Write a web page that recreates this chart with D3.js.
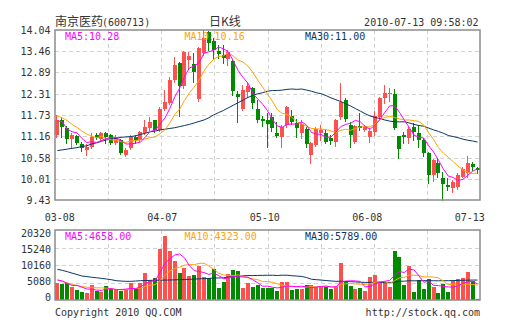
<!DOCTYPE html>
<html>
<head>
<meta charset="utf-8">
<script src="https://cdn.jsdelivr.net/npm/d3@7"></script>
<style>
  html, body { margin: 0; padding: 0; background: #fff; }
  svg { display: block; }
  .mono { font-family: "DejaVu Sans Mono", "Liberation Mono", monospace; font-size: 10px; }
  .cjk { font-family: "Noto Sans CJK SC", sans-serif; font-size: 12px; }
</style>
</head>
<body>
<svg id="chart" width="505" height="330"></svg>
<script>
// 南京医药 (600713) daily candles, 2010-03-08 .. 2010-07-13
const open  = [11.19,11.60,11.39,11.08,11.16,10.95,10.79,10.88,11.19,11.08,11.24,11.19,10.98,11.06,10.65,10.83,11.15,11.06,11.24,11.37,11.60,11.33,11.90,12.07,12.68,13.15,12.52,13.23,13.11,12.17,13.41,13.99,13.74,13.48,13.36,13.25,13.20,12.30,11.90,12.37,12.46,11.90,11.62,11.60,11.67,11.26,11.13,11.46,11.71,11.53,11.24,11.35,10.66,10.92,11.24,11.24,11.10,11.01,11.67,12.14,11.46,11.01,11.44,11.33,11.15,11.28,11.67,12.19,12.30,12.30,11.17,11.18,11.10,11.40,11.24,11.06,10.70,10.11,10.42,10.02,9.84,9.75,9.79,10.06,10.15,10.41,10.29];
const high  = [11.73,11.69,11.44,11.24,11.19,11.01,10.95,11.24,11.24,11.27,11.27,11.22,11.19,11.08,10.83,11.19,11.19,11.31,11.60,11.69,11.60,11.95,12.40,12.77,13.32,13.18,13.48,13.45,13.41,13.58,14.04,14.02,13.81,13.63,13.63,13.50,13.25,12.39,12.55,12.59,12.50,12.14,11.70,11.78,11.78,11.55,11.46,11.98,11.87,11.64,11.60,11.42,11.01,11.42,11.46,11.33,11.20,11.62,12.61,12.19,11.55,11.47,11.78,11.46,11.37,11.83,12.23,12.55,12.46,12.43,11.17,11.28,11.42,11.51,11.46,11.10,10.74,10.53,10.56,10.20,10.02,9.97,10.15,10.33,10.61,10.47,10.33];
const low   = [11.13,11.15,10.98,10.88,10.95,10.77,10.65,10.83,11.08,11.04,10.98,10.95,10.95,10.68,10.62,10.81,10.98,11.04,11.22,11.33,11.28,11.30,11.86,12.03,12.64,11.71,12.46,12.97,12.64,12.12,13.36,13.50,13.27,13.27,13.14,13.10,12.28,11.55,11.88,12.23,11.92,11.55,11.45,10.88,11.30,11.15,10.88,11.40,11.50,11.15,11.10,10.88,10.44,10.90,11.06,10.97,10.95,10.89,11.62,11.58,10.88,10.97,11.33,11.30,10.99,11.19,11.62,12.07,12.12,11.35,10.56,10.97,10.97,11.06,10.86,10.61,9.88,9.95,10.05,9.43,9.70,9.66,9.72,10.05,10.06,10.24,10.15];
const close = [11.60,11.40,11.08,11.19,10.98,10.83,10.88,11.15,11.10,11.24,11.13,10.98,11.13,10.70,10.79,11.15,11.06,11.28,11.40,11.55,11.33,11.89,12.10,12.68,13.09,12.52,13.45,13.33,12.91,13.54,13.81,13.68,13.50,13.39,13.27,13.43,12.39,12.23,12.41,12.52,12.07,11.60,11.56,11.48,11.37,11.17,11.42,11.94,11.55,11.37,11.48,10.94,10.97,11.35,11.33,11.01,11.04,11.60,12.10,11.64,11.19,11.44,11.39,11.42,11.31,11.72,12.19,12.34,12.32,11.39,10.80,11.13,11.36,11.28,11.06,10.70,10.11,10.51,10.15,9.86,9.77,9.93,10.11,10.26,10.44,10.33,10.23];
const volume = [5030,4640,4840,3870,2900,2320,2130,4350,2710,2420,4060,3100,2900,2710,3100,4840,3100,5030,7930,5810,6290,14710,18580,14220,11420,7930,9190,6970,7260,9870,6580,6480,9000,3580,5320,7550,8710,8420,3390,5030,3680,4350,3500,3580,3390,2710,5320,5320,2900,3200,3200,4350,4350,3680,4060,3680,3300,4060,10840,5610,4060,3100,3390,2710,6770,7260,5610,4840,3870,14320,12580,4350,9870,2420,5810,3200,6100,3680,2130,4640,2420,5610,6100,6480,8220,5610,290];

// moving-average lines (price)
const ma5  = [11.58,11.55,11.35,11.28,11.25,11.10,10.99,11.01,10.99,11.04,11.10,11.12,11.12,11.04,10.95,10.95,10.97,11.00,11.14,11.29,11.32,11.49,11.65,11.91,12.22,12.46,12.77,13.01,13.06,13.15,13.41,13.45,13.49,13.58,13.53,13.45,13.20,12.94,12.75,12.60,12.32,12.17,12.03,11.85,11.62,11.44,11.40,11.48,11.49,11.49,11.55,11.46,11.26,11.22,11.21,11.12,11.14,11.27,11.42,11.48,11.51,11.59,11.55,11.42,11.35,11.46,11.61,11.80,11.98,11.99,11.81,11.60,11.40,11.19,11.13,11.11,10.90,10.73,10.51,10.27,10.08,10.04,9.96,9.99,10.10,10.21,10.28];
const ma10 = [11.71,11.66,11.58,11.48,11.40,11.30,11.22,11.16,11.12,11.15,11.10,11.06,11.06,11.01,10.99,11.03,11.04,11.06,11.09,11.12,11.14,11.23,11.33,11.52,11.75,11.89,12.13,12.33,12.49,12.68,12.93,13.11,13.25,13.32,13.34,13.43,13.33,13.22,13.17,13.06,12.89,12.68,12.49,12.30,12.11,11.88,11.78,11.75,11.67,11.55,11.49,11.43,11.37,11.36,11.35,11.34,11.30,11.26,11.32,11.35,11.32,11.37,11.41,11.42,11.41,11.49,11.60,11.67,11.70,11.67,11.63,11.60,11.60,11.58,11.56,11.46,11.25,11.07,10.85,10.70,10.59,10.47,10.35,10.25,10.18,10.15,10.16];
const ma30 = [10.77,10.79,10.81,10.83,10.85,10.88,10.90,10.95,10.98,11.02,11.06,11.08,11.10,11.13,11.14,11.15,11.17,11.21,11.24,11.28,11.30,11.33,11.35,11.37,11.39,11.42,11.45,11.48,11.52,11.56,11.60,11.66,11.74,11.80,11.86,11.93,12.00,12.07,12.14,12.21,12.27,12.31,12.34,12.38,12.40,12.40,12.41,12.43,12.44,12.43,12.44,12.41,12.38,12.34,12.31,12.26,12.20,12.15,12.10,12.04,11.98,11.91,11.84,11.77,11.71,11.67,11.64,11.60,11.57,11.55,11.55,11.55,11.52,11.48,11.45,11.43,11.38,11.33,11.29,11.24,11.18,11.15,11.12,11.08,11.05,11.03,11.00];

// moving-average lines (volume)
const vma5  = [5810,5520,4840,4200,4256,3714,3212,3114,2882,2786,3134,3328,3038,3038,3174,3330,3330,3756,4800,5342,5632,7954,10664,11922,13044,13372,12268,9946,8554,8244,7974,7432,7838,7102,6192,6386,6832,6716,6678,6620,5846,4974,3990,4028,3700,3506,3700,4064,3928,3890,3988,3794,3600,3756,3928,4024,3814,3756,5188,5498,5574,5534,5400,3774,4006,4646,5148,5438,5670,7180,8244,7992,8998,8708,7006,5130,5480,4242,4184,3950,3794,3696,4180,4800,5300,5450,4658];
const vma10 = [5810,5400,4950,4550,4200,3900,3700,3600,3550,3521,3424,3270,3076,2960,2980,3232,3329,3397,3919,4258,4481,5642,7210,8361,9193,9502,10111,10305,10238,10644,10673,9850,8892,7828,7218,7180,7132,7277,6890,6406,6116,5903,5353,5353,5160,4676,4337,4027,3978,3795,3747,3747,3832,3842,3909,4006,3804,3678,4472,4713,4799,4674,4578,4481,4752,5110,5341,5419,4722,5593,6445,6570,7218,7189,7093,6687,6736,6620,6446,5478,4462,4588,4211,4550,4600,4500,4323];
const vma30 = [8910,8600,8230,7800,7400,6970,6800,6600,6450,6290,6100,5900,5610,5500,5420,5420,5500,5610,5650,5700,5720,5750,5780,5810,5850,5900,5950,6000,6070,6141,6193,6254,6393,6383,6464,6638,6857,6993,7016,7103,7090,7132,7152,7181,7190,7119,7193,7203,7035,6948,6845,6500,6026,5900,5780,5650,5520,5420,5450,5380,5330,5260,5150,5100,5120,5130,5080,5030,5050,5250,5450,5460,5580,5560,5600,5610,5620,5590,5570,5610,5600,5640,5680,5720,5760,5790,5789];

const priceTicks = ["14.04","13.46","12.89","12.31","11.73","11.16","10.58","10.01","9.43"];
const volTicks = ["20320","15240","10160","5080","0"];
const dateLabels = ["03-08","04-07","05-10","06-08","07-13"];

const UP = "#ff5050", DOWN = "#008a00";
const C5 = "#ff00ff", C10 = "#ffa500", C30 = "#0b3566";
const TXT = "#333";

const svg = d3.select("#chart");
const L = 55, R = 480, pTop = 30, pBot = 200, vTop = 230, vBot = 300;
const last = close.length - 1;
const idx = d3.range(close.length);
const x = d3.scaleBand().domain(idx).range([L, R]);
const mid = i => x(i) + x.bandwidth() / 2;
const cx = i => Math.round(mid(i));
const y = d3.scaleLinear().domain([+priceTicks[priceTicks.length - 1], +priceTicks[0]]).range([pBot, pTop]);
const yv = d3.scaleLinear().domain([0, +volTicks[0]]).range([vBot, vTop]);

// dashed grid: 8 columns, rows at the tick values
function grid(top, bot, rows) {
  const g = svg.append("g").attr("stroke", "#d2d2d2").attr("stroke-dasharray", "4,3").attr("shape-rendering", "crispEdges");
  for (let k = 1; k < 8; k++) {
    const gx = Math.round(L + (R - L) * k / 8) + 0.5;
    g.append("line").attr("x1", gx).attr("x2", gx).attr("y1", top).attr("y2", bot);
  }
  rows.forEach(v => g.append("line").attr("x1", L).attr("x2", R).attr("y1", Math.round(v) + 0.5).attr("y2", Math.round(v) + 0.5));
}
grid(pTop, pBot, priceTicks.slice(1, -1).map(t => y(+t)));
grid(vTop, vBot, volTicks.slice(1, -1).map(t => yv(+t)));

// candles
const cg = svg.append("g").attr("shape-rendering", "crispEdges");
idx.forEach(i => {
  const col = close[i] >= open[i] ? UP : DOWN;
  const c = cx(i);
  cg.append("line").attr("x1", c - 0.5).attr("x2", c - 0.5)
    .attr("y1", Math.round(y(high[i]))).attr("y2", Math.round(y(low[i])) + 1).attr("stroke", col);
  const t = Math.round(y(Math.max(open[i], close[i])));
  const b = Math.round(y(Math.min(open[i], close[i])));
  cg.append("rect").attr("x", c - 2).attr("width", 4).attr("y", t).attr("height", Math.max(1, b - t)).attr("fill", col);
});

// volume bars
const vg = svg.append("g").attr("shape-rendering", "crispEdges");
idx.forEach(i => {
  const col = close[i] >= open[i] ? UP : DOWN;
  const t = Math.round(yv(volume[i]));
  vg.append("rect").attr("x", cx(i) - 2).attr("width", 4).attr("y", t).attr("height", Math.max(1, vBot - t)).attr("fill", col);
});

// moving-average polylines
function maLine(vals, sc, col) {
  svg.append("path").datum(vals)
    .attr("d", d3.line().x((d, i) => mid(i)).y(d => sc(d)))
    .attr("fill", "none").attr("stroke", col).attr("stroke-width", 1);
}
maLine(ma30, y, C30); maLine(ma10, y, C10); maLine(ma5, y, C5);
maLine(vma30, yv, C30); maLine(vma10, yv, C10); maLine(vma5, yv, C5);

// panel frames
[[pTop, pBot], [vTop, vBot]].forEach(([t, b]) =>
  svg.append("rect").attr("x", L).attr("y", t).attr("width", R - L).attr("height", b - t)
    .attr("fill", "none").attr("stroke", "#8c8c8c").attr("stroke-width", 1.5));

// axis labels
priceTicks.forEach(t => svg.append("text").attr("class", "mono").attr("fill", TXT)
  .attr("x", 50.5).attr("y", y(+t) + 4).attr("text-anchor", "end").text(t));
const volLab = d3.scaleLinear().domain([+volTicks[0], 0]).range([236.7, 300.7]);
volTicks.forEach(t => svg.append("text").attr("class", "mono").attr("fill", TXT)
  .attr("x", 51).attr("y", volLab(+t)).attr("text-anchor", "end").text(t));
const dx = d3.scaleLinear().domain([0, dateLabels.length - 1]).range([59.7, 469.8]);
dateLabels.forEach((t, k) => svg.append("text").attr("class", "mono").attr("fill", TXT)
  .attr("x", dx(k)).attr("y", 220.5).attr("text-anchor", "middle").text(t));

// legends show the latest value of each average
const fmt2 = d3.format(".2f");
function legend(yy, a, b, c) {
  svg.append("text").attr("class", "mono").attr("fill", C5).attr("x", 65).attr("y", yy).text("MA5:" + fmt2(a));
  svg.append("text").attr("class", "mono").attr("fill", C10).attr("x", 184.5).attr("y", yy).text("MA10:" + fmt2(b));
  svg.append("text").attr("class", "mono").attr("fill", C30).attr("x", 305).attr("y", yy).text("MA30:" + fmt2(c));
}
legend(40, ma5[last], ma10[last], ma30[last]);
legend(240, vma5[last], vma10[last], vma30[last]);

// header
svg.append("text").attr("class", "cjk").attr("fill", TXT).attr("x", 55).attr("y", 25.5).text("南京医药");
svg.append("text").attr("class", "mono").attr("fill", TXT).attr("x", 102).attr("y", 25.5).text("(600713)");
svg.append("text").attr("class", "cjk").attr("fill", TXT).attr("x", 225).attr("y", 25.5).attr("text-anchor", "middle").text("日K线");
svg.append("text").attr("class", "mono").attr("fill", TXT).attr("x", 478.5).attr("y", 25.5).attr("text-anchor", "end").text("2010-07-13 09:58:02");

// footer
svg.append("text").attr("class", "mono").attr("fill", TXT).attr("x", 55).attr("y", 315.5).text("Copyright 2010 QQ.COM");
svg.append("text").attr("class", "mono").attr("fill", TXT).attr("x", 480).attr("y", 315.5).attr("text-anchor", "end").text("http://stock.qq.com");
</script>
</body>
</html>
